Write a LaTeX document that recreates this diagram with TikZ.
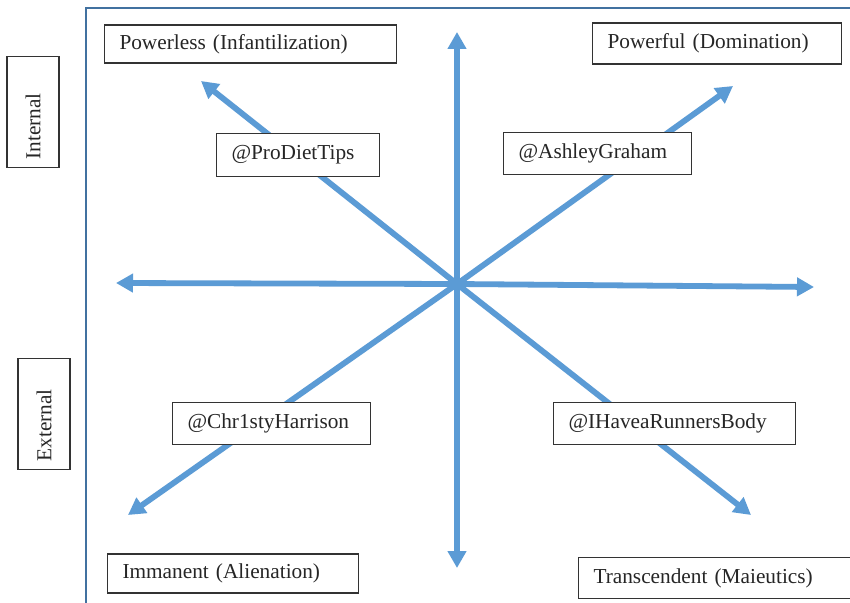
\documentclass[tikz,border=0pt]{standalone}
\usepackage{fontspec}
\setmainfont{Liberation Serif}
\usepackage{xcolor}
\usetikzlibrary{arrows.meta}
\definecolor{arrowblue}{RGB}{91,155,213}
\definecolor{frameblue}{RGB}{65,113,160}

\begin{document}
\begin{tikzpicture}[x=1pt, y=-1pt,
  arr/.style={arrowblue, line width=5.8pt, -{Triangle[length=17pt,width=18pt]}},
  box/.style={draw=black!80, line width=1.2pt, fill=white, inner xsep=15pt, inner ysep=0pt,
    align=left, text=black!85, font=\fontsize{21.3}{25}\selectfont}]
\clip (0,0) rectangle (850,602);
\fill[white] (0,0) rectangle (850,602);
\draw[frameblue, line width=1.5pt] (86,610) -- (86,8) -- (860,8);
\coordinate (center) at (457,284);
\coordinate (tipN) at (457,32);
\coordinate (tipS) at (457,568);
\coordinate (tipW) at (116,283);
\coordinate (tipE) at (814,287);
\coordinate (tipNW) at (201,81);
\coordinate (tipNE) at (733,86);
\coordinate (tipSW) at (128,515);
\coordinate (tipSE) at (751,515);
\foreach \t in {N,S,W,E,NW,NE,SW,SE}
  \draw[arr] (center) -- (tip\t);
\node[box, text width=262pt, minimum height=38pt] (powerless) at (250.5,44) {Powerless (Infantilization)};
\node[box, text width=219pt, minimum height=41pt] (powerful) at (717,43.5) {Powerful (Domination)};
\node[box, text width=133pt, minimum height=43pt] (prodiet) at (298,155) {@ProDietTips};
\node[box, text width=158pt, minimum height=42pt] (ashley) at (597.5,153.5) {@AshleyGraham};
\node[box, text width=168pt, minimum height=42pt] (christy) at (271.5,423.5) {@Chr1styHarrison};
\node[box, text width=212pt, minimum height=42pt] (runners) at (674.5,423.5) {@IHaveaRunnersBody};
\node[box, text width=221pt, minimum height=39pt] (immanent) at (233,573.5) {Immanent (Alienation)};
\node[box, text width=269pt, minimum height=41pt] (transcendent) at (728,578) {Transcendent (Maieutics)};
\node[box, rotate=90, inner xsep=8pt, text width=95pt, minimum height=52pt] (internal) at (33,112) {Internal};
\node[box, rotate=90, inner xsep=8pt, text width=95pt, minimum height=52pt] (external) at (44,414) {External};
\end{tikzpicture}
\end{document}
